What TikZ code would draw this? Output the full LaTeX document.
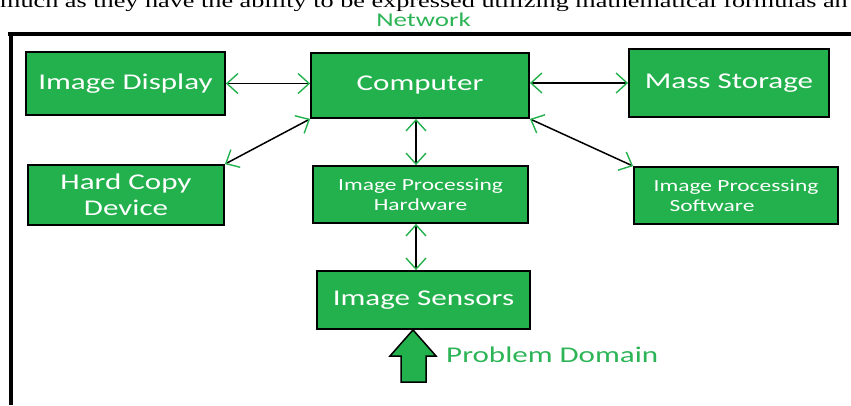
\documentclass[tikz,border=0pt]{standalone}
\usepackage{fontspec}
\setmainfont{Carlito}[FakeStretch=1.38]
\newfontfamily\serifbody{Liberation Serif}[FakeStretch=1.38]
\usetikzlibrary{arrows.meta}
\definecolor{boxgreen}{RGB}{34,177,76}
\definecolor{labelgreen}{RGB}{44,180,86}
\tikzset{
  blk/.style={draw=black, line width=1.8pt, fill=boxgreen, text=white,
    inner sep=0pt, align=center, anchor=center},
  bigtxt/.style={font=\fontsize{22.5}{26}\selectfont},
  smalltxt/.style={font=\fontsize{17}{20}\selectfont},
  gtip/.tip={Straight Barb[color=boxgreen, length=11pt, width=20pt, line width=1.4pt]},
  link/.style={draw=black, line width=1.5pt, gtip-gtip},
  frame/.style={draw=black, line width=4pt},
}
\begin{document}
\begin{tikzpicture}[x=1pt, y=-1pt]
\useasboundingbox (0,0) rectangle (851,405);

% running text of the page above the figure
\begin{scope}
  \clip (0,0) rectangle (851,405);
  \node[anchor=base west, inner sep=0pt, font=\serifbody\fontsize{19}{23}\selectfont]
    (para) at (0,7) {much as they have the ability to be expressed utilizing mathematical formulas an};
\end{scope}

% network frame
\node[text=labelgreen, font=\fontsize{19.5}{22}\selectfont, inner sep=0pt] (net) at (423.5,20) {Network};
\draw[frame] (8,34) -- (851,34);
\draw[frame] (10.5,32) -- (10.5,405);
\coordinate (netL) at (18,34);
\coordinate (netR) at (832,34);
\draw[draw=none, -{Straight Barb[color=boxgreen, length=8pt, width=17pt, line width=1.4pt]}] (30,34) -- (netL);
\draw[draw=none, -{Straight Barb[color=boxgreen, length=8pt, width=17pt, line width=1.4pt]}] (820,34) -- (netR);

% blocks
\node[blk, bigtxt, minimum width=199pt, minimum height=63pt] (disp) at (125.5,83.5) {Image Display};
\node[blk, bigtxt, minimum width=196pt, minimum height=60pt] (hcd) at (126,195) {Hard Copy\\Device};
\node[blk, bigtxt, minimum width=218pt, minimum height=65pt] (comp) at (420,85.5) {Computer};
\node[blk, smalltxt, minimum width=215pt, minimum height=57pt] (hw) at (420.5,194.5) {Image Processing\\Hardware};
\node[blk, bigtxt, minimum width=200pt, minimum height=68pt] (mass) at (729,83) {Mass Storage};
\node[blk, smalltxt, minimum width=204pt, minimum height=57pt] (sw) at (736,195.5) {Image Processing\\\hspace*{-48pt}Software};
\node[blk, bigtxt, minimum width=213pt, minimum height=58pt] (sens) at (423.5,300) {Image Sensors};

% connectors
\draw[link] (disp.east) -- (comp.west |- disp.east);
\draw[link] (hcd.north east) -- (comp.south west);
\draw[link] (comp.south -| 416,0) -- (hw.north -| 416,0);
\draw[link] (comp.east |- mass.west) -- (mass.west);
\draw[link] (comp.south east) -- (sw.north west);
\draw[link] (hw.south -| 416,0) -- (sens.north -| 416,0);

% input arrow from the problem domain
\coordinate (pdtip) at (sens.south -| 413,0);
\draw[fill=boxgreen, draw=black, line width=1.5pt, line join=miter]
  (pdtip) -- (390,356) -- (401,356) -- (401,382) -- (426,382) -- (426,356) -- (436,356) -- cycle;
\node[text=labelgreen, font=\fontsize{22.5}{26}\selectfont, inner sep=0pt, anchor=west] (pd) at (446,355) {Problem Domain};
\end{tikzpicture}
\end{document}
